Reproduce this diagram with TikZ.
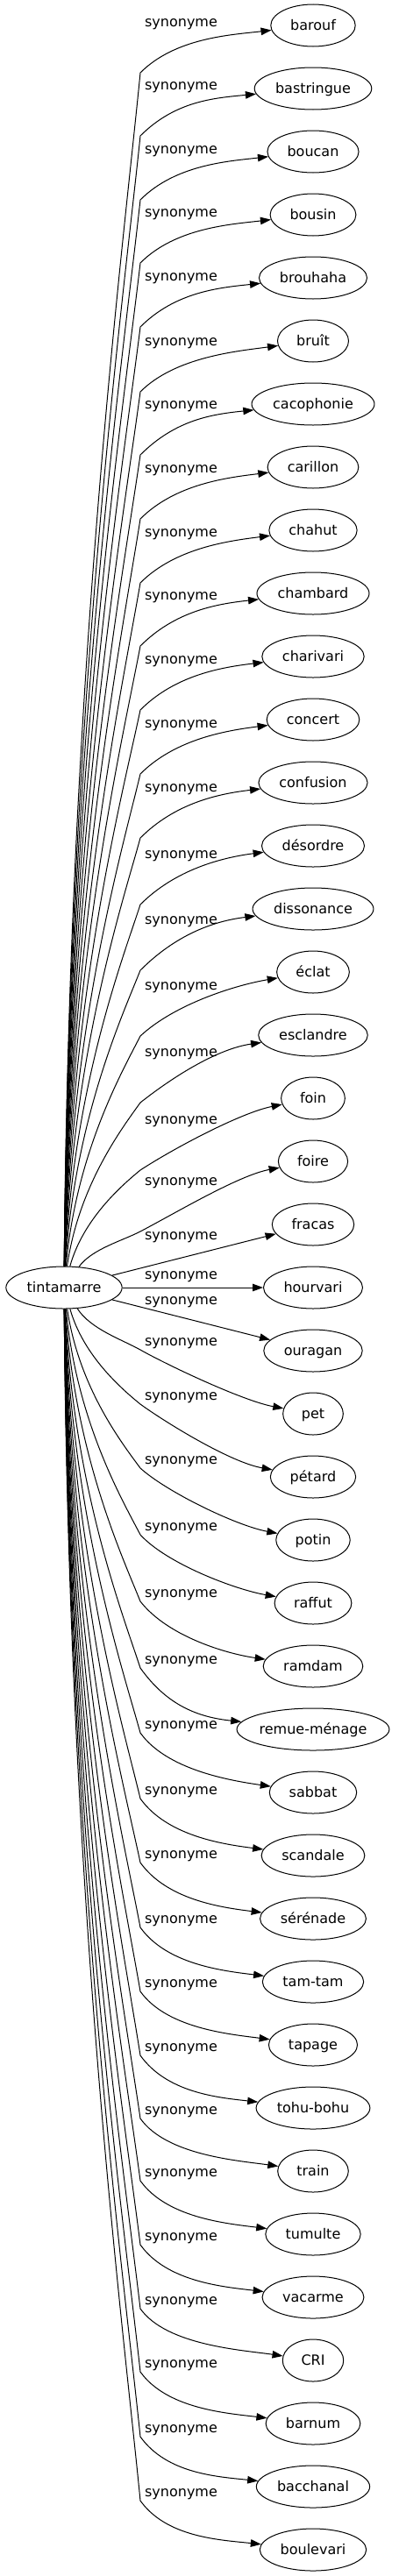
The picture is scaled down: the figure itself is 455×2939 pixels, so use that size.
\documentclass[tikz,border=0pt]{standalone}
\usepackage{fontspec}
\setmainfont{DejaVu Sans}
\usetikzlibrary{arrows.meta,calc,shapes.geometric}
\begin{document}
\fontsize{16pt}{19pt}\selectfont
\begin{tikzpicture}[x=1pt,y=-1pt,
  word/.style={draw,ellipse,inner xsep=0pt,inner ysep=0pt,minimum height=48pt,
               text height=12.5pt,text depth=2.5pt,line width=1pt},
  lab/.style={inner sep=0pt,text height=8.7pt,text depth=3.8pt},
  ar/.style={-{Triangle[length=12pt,width=8.5pt]},line width=1pt}]
\useasboundingbox (0,0) rectangle (455,2939);
\pgfmathsetmacro\tw{width("tintamarre")}
\pgfmathsetmacro\nw{1.09*\tw+40}
\node[word,minimum width=\nw pt] (tintamarre) at (73,1469) {tintamarre};
\foreach \i/\w/\ly in {0/barouf/28,1/bastringue/100,2/boucan/173,3/bousin/245,
  4/brouhaha/318,5/bruît/392,6/cacophonie/464,7/carillon/537,8/chahut/610,
  9/chambard/682,10/charivari/755,11/concert/828,12/confusion/901,
  13/désordre/977,14/dissonance/1052,15/éclat/1127,16/esclandre/1203,
  17/foin/1280,18/foire/1350,19/fracas/1412,20/hourvari/1457,21/ouragan/1486,
  22/pet/1533,23/pétard/1595,24/potin/1668,25/raffut/1744,26/ramdam/1820,
  27/remue-ménage/1896,28/sabbat/1970,29/scandale/2045,30/sérénade/2118,
  31/tam-tam/2192,32/tapage/2265,33/tohu-bohu/2338,34/train/2410,
  35/tumulte/2481,36/vacarme/2554,37/CRI/2627,38/barnum/2699,
  39/bacchanal/2773,40/boulevari/2846}{
  \pgfmathsetmacro\tw{width("\w")}
  \pgfmathsetmacro\nw{1.09*\tw+40}
  \node[word,minimum width=\nw pt] (syn\i) at (357,29+72*\i) {\w};
  \node[lab] (lab\i) at (206.5,\ly) {synonyme};
  \ifnum\i<19
    \pgfmathsetmacro\ky{\ly+55}
    \pgfmathsetmacro\dd{1445-\ky}
    \pgfmathsetmacro\dx{3+4000/(\dd+100)}
    \pgfmathsetmacro\sa{min(1,0.45+\dd/550)}
    \pgfmathsetmacro\cb{max(20*\sa,0.15*\dd)}
    \pgfmathsetmacro\rr{\ky-29-72*\i}
    \draw[ar] (tintamarre) .. controls (73+\dx,1445-0.5*\dd) and (140,\ky+\cb) .. (160,\ky)
      .. controls (200,\ky-40*\sa) and ($(syn\i.west)+(-45,0.2*\rr)$) .. (syn\i);
  \else\ifnum\i>21
    \pgfmathsetmacro\ky{\ly+7}
    \pgfmathsetmacro\dd{\ky-1493}
    \pgfmathsetmacro\dx{3+4000/(\dd+100)}
    \pgfmathsetmacro\sa{min(1.4,0.45+\dd/400)}
    \pgfmathsetmacro\cb{max(20*\sa,0.15*\dd)}
    \pgfmathsetmacro\rr{29+72*\i-\ky}
    \draw[ar] (tintamarre) .. controls (73+\dx,1493+0.5*\dd) and (140,\ky-\cb) .. (160,\ky)
      .. controls (190,\ky+30*\sa) and ($(syn\i.west)+(-45,-0.2*\rr)$) .. (syn\i);
  \else
    \draw[ar] (tintamarre) -- (syn\i);
  \fi\fi
}
\end{tikzpicture}
\end{document}
